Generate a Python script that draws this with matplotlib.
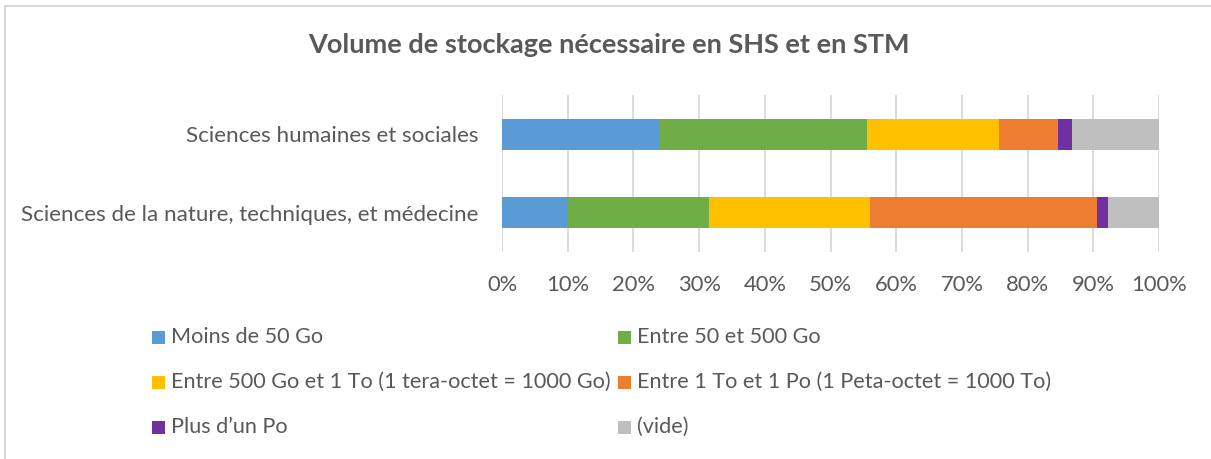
import matplotlib
matplotlib.use("Agg")
import matplotlib.pyplot as plt
from matplotlib.patches import Rectangle
from matplotlib.lines import Line2D
import numpy as np

categories = ["Sciences humaines et sociales",
              "Sciences de la nature, techniques, et médecine"]
series_names = ["Moins de 50 Go", "Entre 50 et 500 Go",
                "Entre 500 Go et 1 To (1 tera-octet = 1000 Go)",
                "Entre 1 To et 1 Po (1 Peta-octet = 1000 To)",
                "Plus d\u2019un Po", "(vide)"]
# percentages per category (SHS, STM)
moins_50 = [24.1, 10.0]
entre_50_500 = [31.5, 21.5]
entre_500_1to = [20.1, 24.5]
entre_1to_1po = [9.0, 34.6]
plus_po = [2.0, 1.6]
vide = [13.3, 7.8]
series_values = [moins_50, entre_50_500, entre_500_1to, entre_1to_1po, plus_po, vide]
colors = ["#5B9BD5", "#70AD47", "#FFC000", "#ED7D31", "#7030A0", "#BFBFBF"]
xticks = [0, 10, 20, 30, 40, 50, 60, 70, 80, 90, 100]
xtick_labels = [f"{t}%" for t in xticks]

plt.rcParams['font.family'] = ['Lato', 'DejaVu Sans']
txt = "#595959"
fs = 15.6

W, H = 1211, 459
fig = plt.figure(figsize=(W / 100, H / 100), dpi=100)
ax = fig.add_axes([502 / W, 1 - 252 / H, (1159 - 502) / W, (252 - 95) / H])

y = np.arange(len(categories))
left = np.zeros(len(categories))
for name, vals, c in zip(series_names, series_values, colors):
    vals = np.array(vals, dtype=float)
    ax.barh(y, vals, left=left, height=0.395, color=c, label=name, zorder=3)
    left += vals

ax.set_xlim(0, 100)
ax.set_ylim(1.5, -0.5)
ax.set_xticks(xticks)
ax.set_xticklabels(xtick_labels, color=txt, fontsize=15.8)
ax.set_yticks(y)
ax.set_yticklabels(categories, color=txt, fontsize=16.1)
ax.tick_params(axis='both', length=0)
ax.tick_params(axis='x', pad=16.5)
ax.tick_params(axis='y', pad=17)
ax.grid(axis='x', color="#D9D9D9", linewidth=1.3, zorder=0)
for s in ax.spines.values():
    s.set_visible(False)

fig.text(609 / W, 1 - 45 / H, "Volume de stockage nécessaire en SHS et en STM",
         ha='center', va='center', fontsize=19.5, fontweight='bold', color=txt)

# legend drawn manually
col_x = [152, 618]
row_y = [337, 382, 427]
for i, (name, c) in enumerate(zip(series_names, colors)):
    cx = col_x[i % 2]
    ry = row_y[i // 2]
    fig.patches.append(Rectangle((cx / W, 1 - (ry + 7) / H), 13 / W, 13 / H,
                                 transform=fig.transFigure, facecolor=c,
                                 edgecolor='none'))
    fig.text((cx + 19) / W, 1 - ry / H, name, ha='left', va='center',
             fontsize=fs, color=txt)

# chart border (left and top)
fig.add_artist(Line2D([5 / W, 5 / W], [0, 1 - 6 / H], transform=fig.transFigure,
                      color="#D9D9D9", linewidth=1.5))
fig.add_artist(Line2D([5 / W, 1], [1 - 6 / H, 1 - 6 / H], transform=fig.transFigure,
                      color="#D9D9D9", linewidth=1.5))

fig.savefig("out.png", dpi=100, facecolor="white")
